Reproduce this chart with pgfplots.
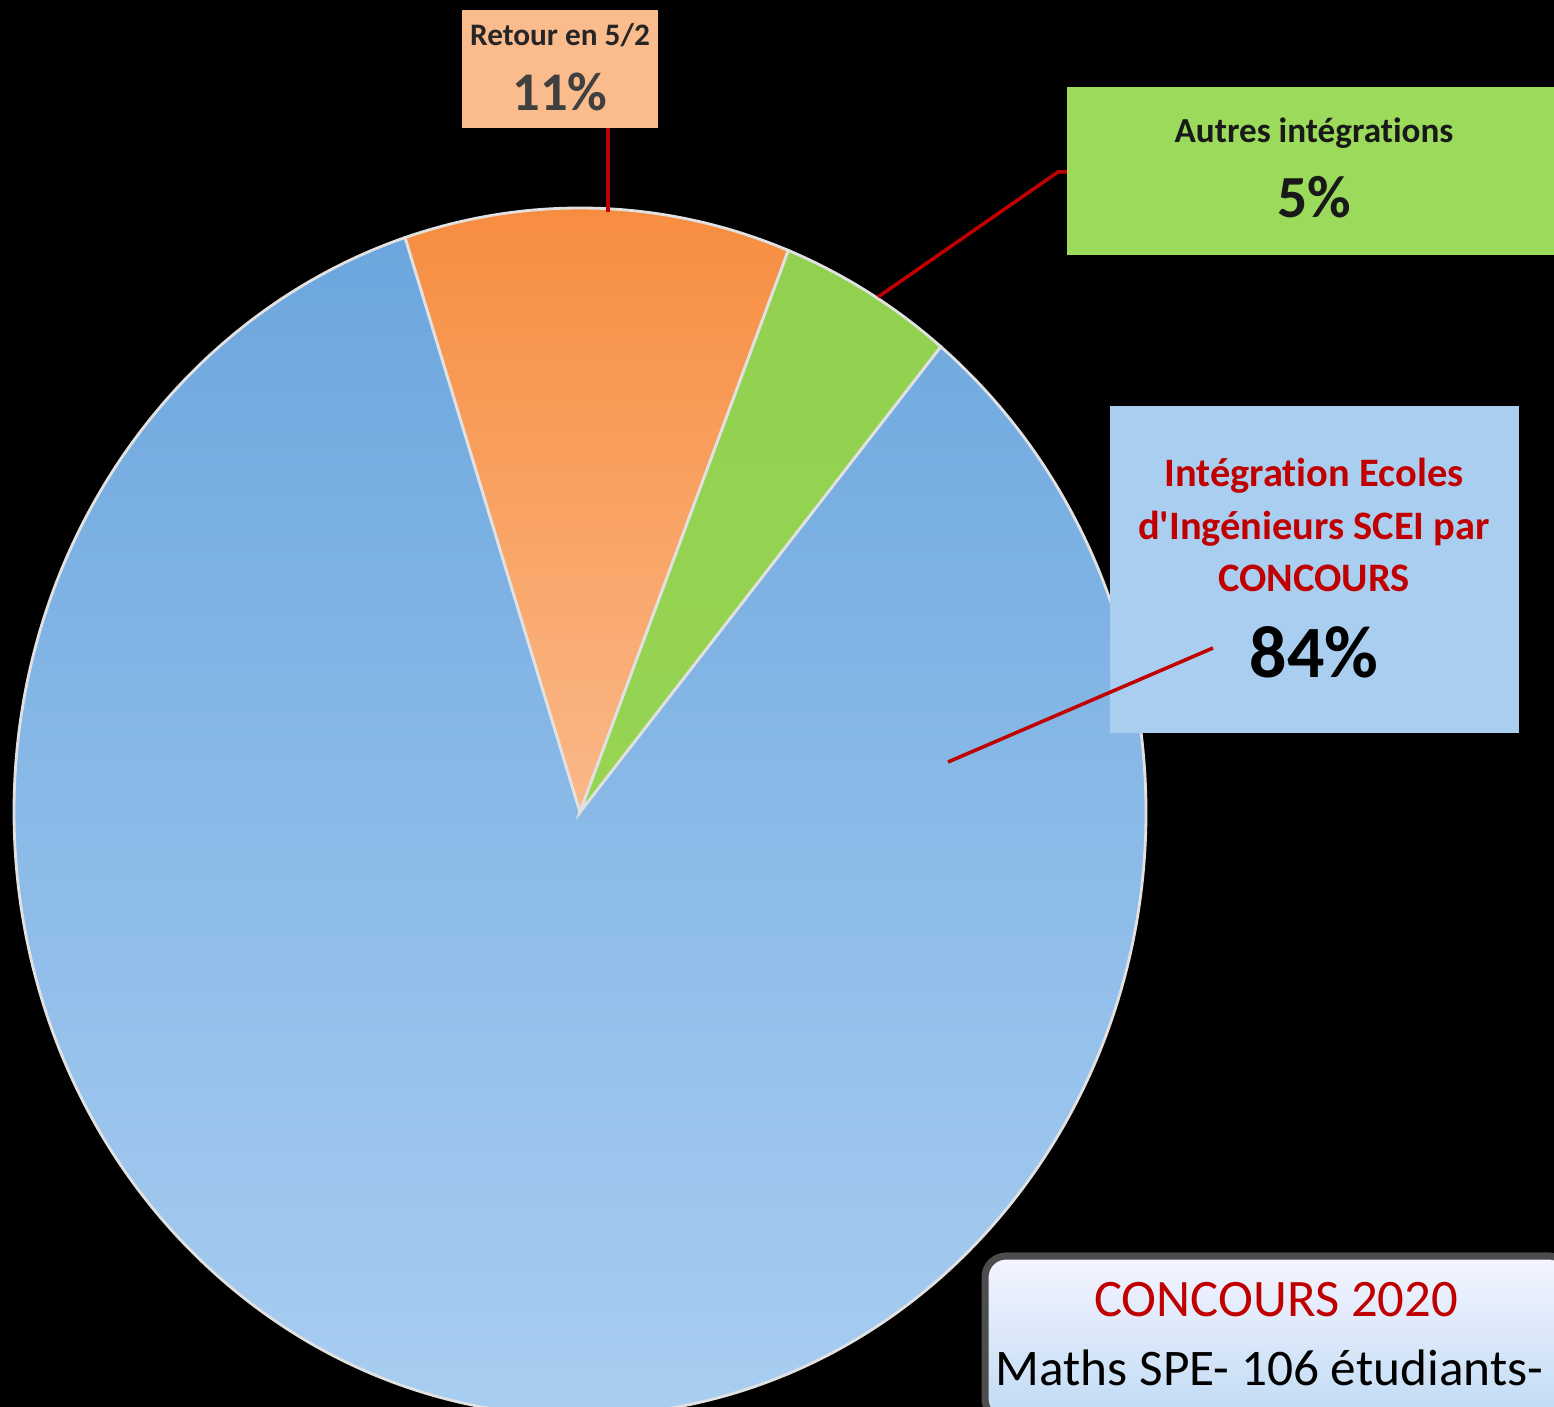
\documentclass[border=0pt]{standalone}
\usepackage{pgfplots}
\usepackage{pgfplotstable}
\usepackage{fontspec}
\setmainfont{Carlito}[Ligatures={TeXOff,NoCommon}]
\pgfplotsset{compat=1.18}
\definecolor{bluetop}{RGB}{108,166,222}
\definecolor{bluebot}{RGB}{172,208,242}
\definecolor{orangetop}{RGB}{247,140,62}
\definecolor{orangebot}{RGB}{250,184,136}
\definecolor{greentop}{RGB}{146,208,80}
\definecolor{greenbot}{RGB}{150,212,82}
\definecolor{darkred}{RGB}{192,0,0}
\definecolor{boxorange}{RGB}{250,188,140}
\definecolor{boxgreen}{RGB}{155,218,90}
\definecolor{boxblue}{RGB}{170,206,240}
\definecolor{rim}{RGB}{225,225,225}

% share of each outcome, in %, clockwise from the left edge of "Retour en 5/2"
\pgfplotstableread{
name     value
Retour   11
Autres   5
Concours 84
}\piedata

\pgfplotstablegetelem{0}{value}\of\piedata \let\vRet\pgfplotsretval
\pgfplotstablegetelem{1}{value}\of\piedata \let\vAut\pgfplotsretval
\pgfplotstablegetelem{2}{value}\of\piedata \let\vCon\pgfplotsretval
\pgfmathsetmacro\aA{108}
\pgfmathsetmacro\aB{\aA-3.6*\vRet}
\pgfmathsetmacro\aC{\aB-3.6*\vAut}
\pgfmathsetmacro\aD{\aC-3.6*\vCon}

\begin{document}
\begin{tikzpicture}
\path[use as bounding box] (0,0) rectangle (155.4mm,140.7mm);
\clip (0,0) rectangle (155.4mm,140.7mm);
\begin{axis}[
    hide axis,
    scale only axis,
    width=155.4mm, height=140.7mm,
    xmin=0, xmax=1554, ymin=0, ymax=1407,
    y dir=reverse,
    clip=false,
    at={(0,0)}, anchor=south west
]
\fill[black] (axis cs:0,0) rectangle (axis cs:1554,1407);

% pie slices (centre 580,812 px; radii 566 x 604 px)
\fill[top color=bluetop, bottom color=bluebot, draw=rim, line width=0.8pt]
    (axis cs:580,812) -- ++(\aC:56.6mm and 60.4mm)
    arc[start angle=\aC, end angle=\aD, x radius=56.6mm, y radius=60.4mm] -- cycle;
\fill[top color=orangetop, bottom color=orangebot, draw=rim, line width=0.8pt]
    (axis cs:580,812) -- ++(\aA:56.6mm and 60.4mm)
    arc[start angle=\aA, end angle=\aB, x radius=56.6mm, y radius=60.4mm] -- cycle;
\fill[top color=greentop, bottom color=greenbot, draw=rim, line width=0.8pt]
    (axis cs:580,812) -- ++(\aB:56.6mm and 60.4mm)
    arc[start angle=\aB, end angle=\aC, x radius=56.6mm, y radius=60.4mm] -- cycle;

% leader lines
\draw[darkred, line width=1pt] (axis cs:608,128) -- (axis cs:608,212);
\draw[darkred, line width=1pt] (axis cs:1067,172) -- (axis cs:1058,172) -- (axis cs:878,297);

% label boxes
\fill[boxorange] (axis cs:462,10) rectangle (axis cs:658,128);
\node[font=\bfseries\fontsize{8.9}{10}\selectfont, text=black!85] at (axis cs:560,35) {Retour en 5/2};
\node[font=\bfseries\fontsize{15.5}{17}\selectfont, text=black!75] at (axis cs:560,92) {11\%};

\fill[boxgreen] (axis cs:1067,87) rectangle (axis cs:1560,255);
\node[font=\bfseries\fontsize{10}{12}\selectfont, text=black!90] at (axis cs:1314,133) {Autres intégrations};
\node[font=\bfseries\fontsize{17}{19}\selectfont, text=black!90] at (axis cs:1314,197) {5\%};

\fill[boxblue] (axis cs:1110,406) rectangle (axis cs:1519,733);
\draw[darkred, line width=1pt] (axis cs:1213,648) -- (axis cs:948,762);
\node[font=\bfseries\fontsize{11.5}{15}\selectfont, text=darkred, align=center] at (axis cs:1314,525)
    {Intégration Ecoles\\d'Ingénieurs SCEI par\\CONCOURS};
\node[font=\bfseries\fontsize{21}{23}\selectfont, text=black] at (axis cs:1314,652) {84\%};

% title box
\shade[top color=white!96!blue, bottom color=boxblue!75!white, draw=black!70, line width=2pt, rounded corners=6pt]
    (axis cs:985,1256) rectangle (axis cs:1570,1420);
\node[font=\fontsize{15}{17}\selectfont, text=darkred] at (axis cs:1276,1300) {CONCOURS 2020};
\node[font=\fontsize{14.6}{17}\selectfont, text=black, anchor=west, inner sep=0pt] at (axis cs:995,1368) {Maths SPE- 106 étudiants-};
\end{axis}
\end{tikzpicture}
\end{document}
